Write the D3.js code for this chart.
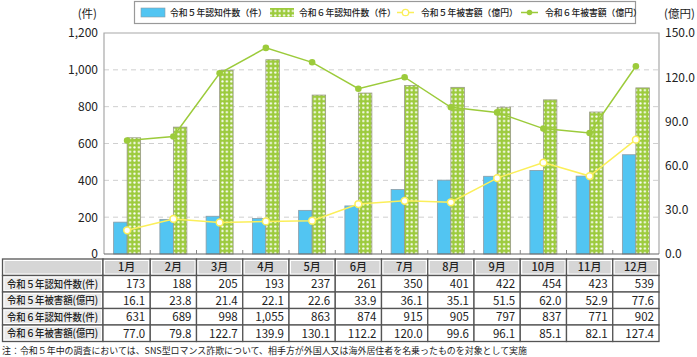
<!DOCTYPE html>
<html><head><meta charset="utf-8">
<script src="https://cdn.jsdelivr.net/npm/d3@7/dist/d3.min.js"></script>
<style>
body{margin:0;background:#fff;}
svg{display:block;font-family:"Noto Sans CJK JP","Noto Sans",sans-serif;}
</style></head><body>
<svg id="c" width="697" height="357"></svg>
<script>
const months = ["1月","2月","3月","4月","5月","6月","7月","8月","9月","10月","11月","12月"];
const r5Count = [173,188,205,193,237,261,350,401,422,454,423,539];
const r5Amount = [16.1,23.8,21.4,22.1,22.6,33.9,36.1,35.1,51.5,62.0,52.9,77.6];
const r6Count = [631,689,998,1055,863,874,915,905,797,837,771,902];
const r6Amount = [77.0,79.8,122.7,139.9,130.1,112.2,120.0,99.6,96.1,85.1,82.1,127.4];
const leftTicks = [0,200,400,600,800,1000,1200];
const rightTicks = [0,30,60,90,120,150];
const rowLabels = ["令和５年認知件数(件)","令和５年被害額(億円)","令和６年認知件数(件)","令和６年被害額(億円)"];
const legendLabels = ["令和５年認知件数（件）","令和６年認知件数（件）","令和５年被害額（億円）","令和６年被害額（億円）"];
const note = "注：令和５年中の調査においては、SNS型ロマンス詐欺について、相手方が外国人又は海外居住者を名乗ったものを対象として実施";

const svg = d3.select("#c");
const L = 104, R = 659, T = 33, B = 254;
const x = d3.scaleBand().domain(months).range([L, R]);
const yL = d3.scaleLinear().domain([0,1200]).range([B, T]);
const yR = d3.scaleLinear().domain([0,150]).range([B, T]);

const blue = "#52c5f2", green = "#9dcb3e", yellow = "#fbef5a", lineGreen = "#9ccb3b";

// pattern
const defs = svg.append("defs");
const pat = defs.append("pattern").attr("id","dots").attr("patternUnits","userSpaceOnUse")
  .attr("width",4.4).attr("height",4.4).attr("x",0.3).attr("y",0);
pat.append("rect").attr("width",4.4).attr("height",4.4).attr("fill",green);
pat.append("circle").attr("cx",2.2).attr("cy",2.2).attr("r",1.15).attr("fill","#fff");

// gridlines
svg.append("g").selectAll("line").data(leftTicks.filter(d=>d>0 && d<1200)).join("line")
  .attr("x1",L).attr("x2",R).attr("y1",d=>yL(d)).attr("y2",d=>yL(d))
  .attr("stroke","#cfcfcf").attr("stroke-width",1).attr("stroke-dasharray","5,4");

// frame
svg.append("path").attr("d",`M${L},${B}V${T}H${R}V${B}`).attr("fill","none").attr("stroke","#a8a8a8").attr("stroke-width",1.2);

// bars
const bw = 13.5;
svg.append("g").selectAll("rect").data(months).join("rect")
  .attr("x",d=>x(d)+x.bandwidth()/2-bw).attr("width",bw)
  .attr("y",(d,i)=>yL(r5Count[i])).attr("height",(d,i)=>B-yL(r5Count[i]))
  .attr("fill",blue).attr("stroke","#8a9ca6").attr("stroke-width",0.8);
svg.append("g").selectAll("rect").data(months).join("rect")
  .attr("x",d=>x(d)+x.bandwidth()/2).attr("width",bw)
  .attr("y",(d,i)=>yL(r6Count[i])).attr("height",(d,i)=>B-yL(r6Count[i]))
  .attr("fill","url(#dots)").attr("stroke","#9a9a8a").attr("stroke-width",0.8);

// bottom axis
svg.append("line").attr("x1",L).attr("x2",R).attr("y1",B).attr("y2",B).attr("stroke","#666").attr("stroke-width",1.2);
svg.append("g").selectAll("line").data(months.slice(1)).join("line")
  .attr("x1",d=>x(d)).attr("x2",d=>x(d)).attr("y1",B).attr("y2",B-4).attr("stroke","#888");

// lines
const cx = (d,i)=>x(months[i])+x.bandwidth()/2;
const line = d3.line().x((d,i)=>cx(d,i)).y(d=>yR(d));
svg.append("path").datum(r6Amount).attr("d",line).attr("fill","none").attr("stroke",lineGreen).attr("stroke-width",1.5);
svg.append("g").selectAll("circle").data(r6Amount).join("circle")
  .attr("cx",cx).attr("cy",d=>yR(d)).attr("r",3.3).attr("fill",lineGreen);
svg.append("path").datum(r5Amount).attr("d",line).attr("fill","none").attr("stroke",yellow).attr("stroke-width",1.5);
svg.append("g").selectAll("circle").data(r5Amount).join("circle")
  .attr("cx",cx).attr("cy",d=>yR(d)).attr("r",3.4).attr("fill","#fff").attr("stroke",yellow).attr("stroke-width",1.5);

// axes labels
const axL = d3.axisLeft(yL).tickValues(leftTicks).tickSize(0).tickPadding(6).tickFormat(d3.format(","));
const gL = svg.append("g").attr("transform",`translate(${L},0)`).call(axL);
gL.select(".domain").remove();
gL.selectAll("text").attr("font-size",12).attr("fill","#222").attr("font-family","Noto Sans CJK JP");
const axR = d3.axisRight(yR).tickValues(rightTicks).tickSize(0).tickPadding(6).tickFormat(d3.format(".1f"));
const gR = svg.append("g").attr("transform",`translate(${R},0)`).call(axR);
gR.select(".domain").remove();
gR.selectAll("text").attr("font-size",12).attr("fill","#222").attr("font-family","Noto Sans CJK JP");
svg.append("text").attr("x",97).attr("y",18).attr("text-anchor","end").attr("font-size",11.5).attr("fill","#222").text("(件)");
svg.append("text").attr("x",664).attr("y",18).attr("font-size",11.5).attr("fill","#222").text("(億円)");

// legend
const lg = svg.append("g");
lg.append("rect").attr("x",134.5).attr("y",1.5).attr("width",501).attr("height",22).attr("fill","#fff").attr("stroke","#999").attr("stroke-width",1.2);
const ly = 12.5;
lg.append("rect").attr("x",141).attr("y",8).attr("width",24).attr("height",9).attr("fill",blue).attr("stroke","#8a9ca6").attr("stroke-width",0.6);
lg.append("rect").attr("x",270).attr("y",8).attr("width",24).attr("height",9).attr("fill","url(#dots)");
lg.append("line").attr("x1",397).attr("x2",414).attr("y1",ly).attr("y2",ly).attr("stroke",yellow).attr("stroke-width",1.5);
lg.append("circle").attr("cx",405.5).attr("cy",ly).attr("r",3.2).attr("fill","#fff").attr("stroke",yellow).attr("stroke-width",1.3);
lg.append("line").attr("x1",521).attr("x2",538).attr("y1",ly).attr("y2",ly).attr("stroke",lineGreen).attr("stroke-width",1.5);
lg.append("circle").attr("cx",529.5).attr("cy",ly).attr("r",2.8).attr("fill",lineGreen);
const lxs = [170,299,421,545];
lg.selectAll("text").data(legendLabels).join("text")
  .attr("x",(d,i)=>lxs[i]).attr("y",ly+3.3).attr("font-size",8.8).attr("font-weight",500).attr("fill","#222").text(d=>d);

// table
const tT = 259, rh = 16.5, tL = 2.5, c0 = 103;
const tg = svg.append("g");
const rows = [r5Count.map(d3.format(",")), r5Amount.map(d3.format(".1f")), r6Count.map(d3.format(",")), r6Amount.map(d3.format(".1f"))];
function cell(x0, y0, w, h, shade){
  tg.append("rect").attr("x",x0).attr("y",y0).attr("width",w).attr("height",h).attr("fill","#fff").attr("stroke","#555").attr("stroke-width",1.3);
  if(shade) tg.append("rect").attr("x",x0+2).attr("y",y0+2).attr("width",w-4).attr("height",h-4).attr("fill",shade);
}
cell(tL, tT, c0-tL, rh, "#d6d6d6");
months.forEach((m,i)=>{
  const x0 = i===0 ? c0 : x(m);
  const w = x(m)+x.bandwidth()-x0;
  cell(x0, tT, w, rh, "#d6d6d6");
  tg.append("text").attr("x",x0+w/2).attr("y",tT+rh/2+4.2).attr("text-anchor","middle").attr("font-size",11).attr("font-weight",500).attr("fill","#222").text(m);
});
rows.forEach((vals,r)=>{
  const y0 = tT+rh*(r+1);
  cell(tL, y0, c0-tL, rh, "#ebebeb");
  tg.append("text").attr("x",tL+4.5).attr("y",y0+rh/2+4).attr("font-size",10.5).attr("font-weight",500).attr("fill","#222")
    .attr("textLength",91).attr("lengthAdjust","spacingAndGlyphs").text(rowLabels[r]);
  vals.forEach((v,i)=>{
    const m = months[i];
    const x0 = i===0 ? c0 : x(m);
    const w = x(m)+x.bandwidth()-x0;
    cell(x0, y0, w, rh, null);
    tg.append("text").attr("x",x0+w-5).attr("y",y0+rh/2+4.3).attr("text-anchor","end").attr("font-size",11.5).attr("fill","#222").text(v);
  });
});
svg.append("text").attr("x",2).attr("y",354).attr("font-size",8.8).attr("fill","#222")
  .attr("textLength",525).attr("lengthAdjust","spacingAndGlyphs").text(note);
</script>
</body></html>
